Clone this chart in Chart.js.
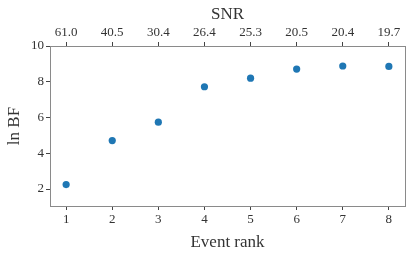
<!DOCTYPE html>
<html>
<head>
<meta charset="utf-8">
<script src="https://cdn.jsdelivr.net/npm/chart.js@4"></script>
<style>
  html, body { margin: 0; padding: 0; background: #fff; }
  #wrap { width: 415px; height: 257px; }
</style>
</head>
<body>
<div id="wrap"><canvas id="myChart" width="415" height="257"></canvas></div>
<script>
// event ranks, ln BF values, and the SNR of each event (top axis)
var ranks = [1, 2, 3, 4, 5, 6, 7, 8]
var lnBF = [2.25, 4.71, 5.74, 7.72, 8.2, 8.71, 8.88, 8.86]
var snr = ["61.0", "40.5", "30.4", "26.4", "25.3", "20.5", "20.4", "19.7"]
var yTicks = [2, 4, 6, 8, 10]

var points = []
for (var i = 0; i < ranks.length; i++) {
    points.push({x: ranks[i], y: lnBF[i]})
}

var font = "'Liberation Serif', 'DejaVu Serif', serif"
var textColor = "#333"
var spine = "#8a8a8a"
var tickColor = "#444"

function rankTicks(axis) {
    axis.ticks = ranks.map(function(v){ return {value: v} })
}

var ctx = document.getElementById("myChart").getContext('2d')
var chart = new Chart(ctx, {
    type: 'scatter',
    data: {
        datasets: [{
            data: points,
            backgroundColor: "#1f77b4",
            borderWidth: 0,
            pointRadius: 3.6,
            xAxisID: 'x',
            yAxisID: 'y'
        }]
    },
    options: {
        responsive: false,
        animation: false,
        layout: {padding: 0},
        plugins: {legend: {display: false}, tooltip: {enabled: false}},
        scales: {
            x: {
                type: 'linear', position: 'bottom',
                min: 0.65, max: 8.35,
                afterBuildTicks: rankTicks,
                afterFit: function(s){ s.height = 51 },
                grid: {drawOnChartArea: false, tickLength: 4, color: tickColor, tickWidth: 1},
                border: {color: spine, width: 1},
                ticks: {color: textColor, font: {family: font, size: 13}, padding: 2,
                        callback: function(v){ return v }},
                title: {display: true, text: 'Event rank', color: textColor,
                        font: {family: font, size: 17}, padding: {top: 0}}
            },
            x2: {
                type: 'linear', position: 'top',
                min: 0.65, max: 8.35,
                afterBuildTicks: rankTicks,
                afterFit: function(s){ s.height = 46 },
                grid: {drawOnChartArea: false, tickLength: 4, color: tickColor, tickWidth: 1},
                border: {color: spine, width: 1},
                ticks: {color: textColor, font: {family: font, size: 13}, padding: 2,
                        callback: function(v){ return snr[ranks.indexOf(v)] }},
                title: {display: true, text: 'SNR', color: textColor,
                        font: {family: font, size: 17}, padding: {bottom: 0}}
            },
            y: {
                type: 'linear', position: 'left',
                min: 1.05, max: 10,
                afterBuildTicks: function(axis){
                    axis.ticks = yTicks.map(function(v){ return {value: v} })
                },
                afterFit: function(s){ s.width = 50 },
                grid: {drawOnChartArea: false, tickLength: 4, color: tickColor, tickWidth: 1},
                border: {color: spine, width: 1},
                ticks: {color: textColor, font: {family: font, size: 13}, padding: 2},
                title: {display: true, text: 'ln BF', color: textColor,
                        font: {family: font, size: 17}, padding: {bottom: 4}}
            },
            y2: {
                type: 'linear', position: 'right',
                min: 1.05, max: 10,
                afterFit: function(s){ s.width = 10 },
                grid: {display: false},
                border: {color: spine, width: 1},
                ticks: {display: false}
            }
        }
    }
})
</script>
</body>
</html>
